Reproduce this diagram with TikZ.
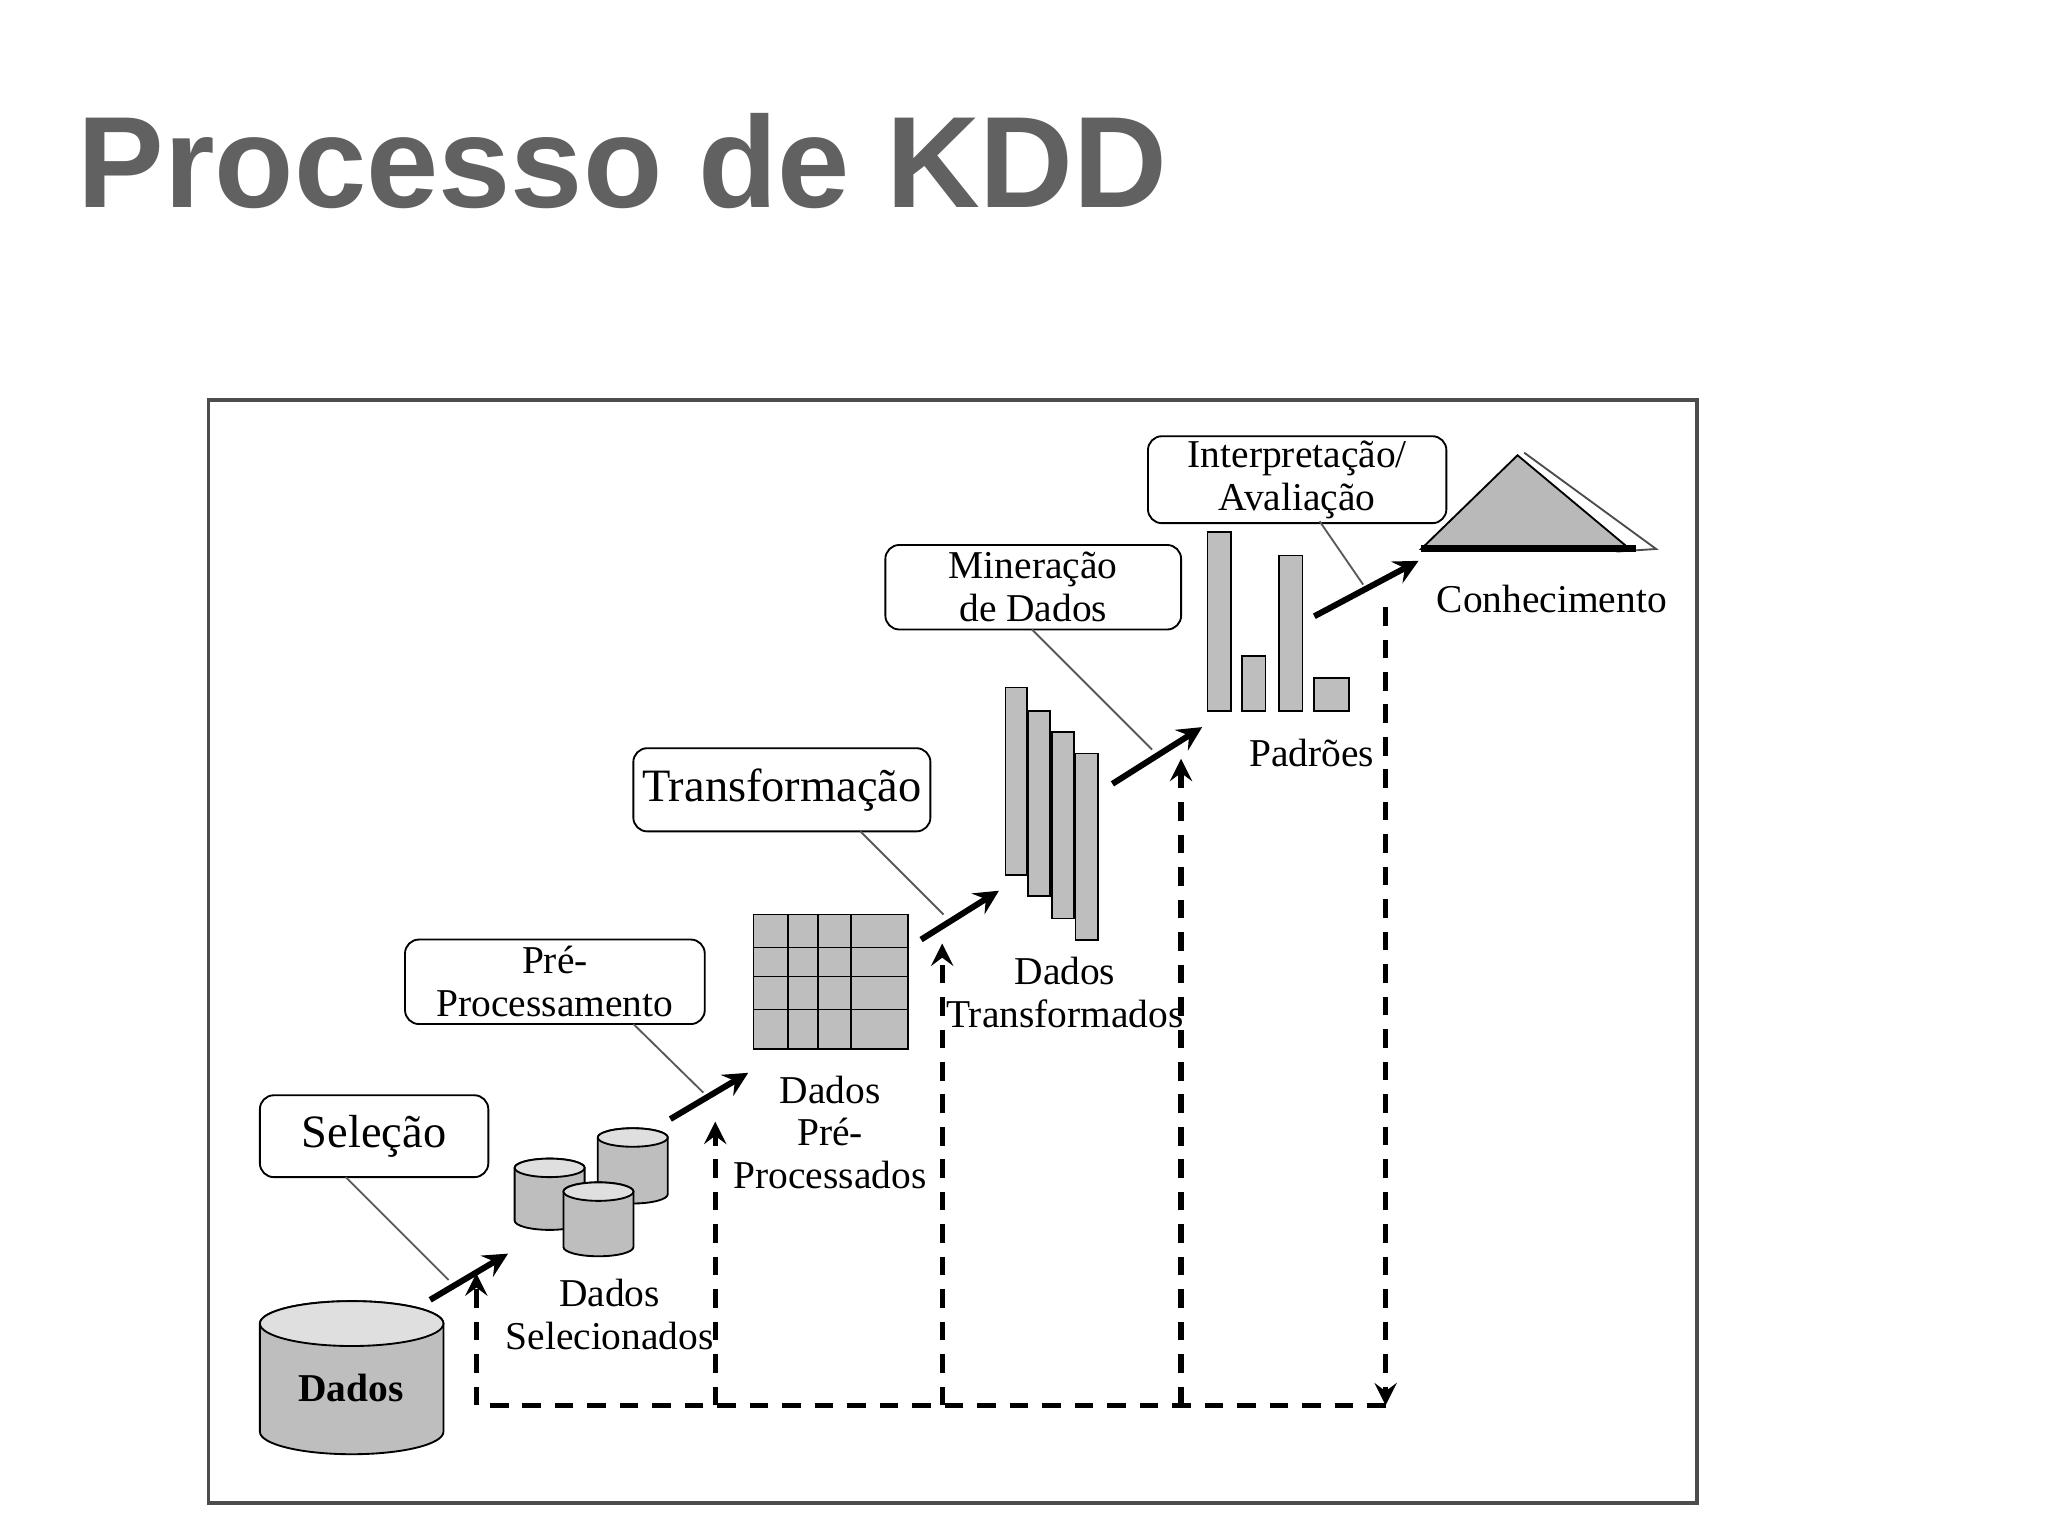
\documentclass[tikz,border=0pt]{standalone}
\usepackage{fontspec}
\setmainfont{Liberation Serif}
\newfontfamily\titlefont{Liberation Sans}
\definecolor{titlegray}{RGB}{97,97,97}
\definecolor{bargray}{RGB}{190,190,190}
\newcommand{\cyl}[5]{% center x, top y, bottom y, x radius, y radius
  \draw[fill=bargray] ([xshift=-#4]#1,#2) -- ([xshift=-#4]#1,#3)
    arc[start angle=180,end angle=360,x radius=#4,y radius=#5]
    -- ([xshift=#4]#1,#2) arc[start angle=0,end angle=180,x radius=#4,y radius=#5] -- cycle;
  \draw[fill=gray!25] (#1,#2) ellipse[x radius=#4,y radius=#5];}
\begin{document}
\begin{tikzpicture}[x=0.01cm, y=-0.01cm, >=stealth,
    box/.style={draw, rounded corners=3pt, fill=white, align=center, inner sep=1pt},
    lbl/.style={align=center, font=\fontsize{8.5}{9.2}\selectfont},
    stage/.style={->, line width=1.3pt},
    back/.style={->, line width=1.1pt, dash pattern=on 4pt off 3pt},
    lead/.style={gray!70!black, line width=0.4pt},
    bar/.style={draw, fill=bargray}]
  \useasboundingbox (0,0) rectangle (1552,1163);
  % Title
  \node[anchor=base west, inner sep=0, text=titlegray, font=\titlefont\bfseries\fontsize{28}{30}\selectfont] (title) at (58,157) {Processo de KDD};
  % Frame
  \draw[gray!60!black, line width=0.8pt] (158,303) rectangle (1286,1139);
  % Data stores
  \cyl{266.5}{1003}{1085}{0.695cm}{0.17cm}
  \node[font=\fontsize{8.5}{10}\selectfont\bfseries] (dados) at (266,1052) {Dados};
  \cyl{416.5}{885}{925}{0.265cm}{0.07cm}
  \cyl{479.5}{862}{905}{0.265cm}{0.07cm}
  \cyl{453.5}{903}{945}{0.265cm}{0.07cm}
  \node[lbl] (sel) at (462,996) {Dados\\Selecionados};
  % Grid
  \draw[fill=bargray] (571,693) rectangle (688,795);
  \foreach \x in {597,620,645} \draw (\x,693) -- (\x,795);
  \foreach \y in {718,740,765} \draw (571,\y) -- (688,\y);
  \node[lbl] (pre) at (629,858) {Dados\\Pré-\\Processados};
  % Transformed bars
  \foreach \a/\b/\c/\d in {762/521/778/663, 779/539/796/679, 797/555/814/696, 815/571/832/712}
    \draw[bar] (\a,\b) rectangle (\c,\d);
  \node[lbl] (trans) at (807,752) {Dados\\Transformados};
  % Pattern bars
  \foreach \a/\b/\c in {915/403/933, 941/497/959, 969/421/987, 996/514/1022}
    \draw[bar] (\a,\b) rectangle (\c,539);
  \node[lbl] (pad) at (994,571) {Padrões};
  % Knowledge
  \draw[gray!60!black] (1155,343) -- (1255,416) -- (1225,418);
  \draw[fill=gray!55] (1077,416) -- (1150,345) -- (1235,416) -- cycle;
  \draw[line width=1.5pt] (1077,416) -- (1240,416);
  \node[lbl] (con) at (1176,454) {Conhecimento};
  % Step boxes
  \node[box, minimum width=1.73cm, minimum height=0.62cm] (b1) at (283.5,861) {Seleção};
  \node[box, minimum width=2.27cm, minimum height=0.64cm, font=\fontsize{8.5}{9.2}\selectfont] (b2) at (420.5,744) {Pré-\\Processamento};
  \node[box, minimum width=2.25cm, minimum height=0.63cm] (b3) at (592.5,598.5) {Transformação};
  \node[box, minimum width=2.24cm, minimum height=0.64cm, font=\fontsize{8.5}{9.2}\selectfont] (b4) at (783,445) {Mineração\\de Dados};
  \node[box, minimum width=2.26cm, minimum height=0.63cm, font=\fontsize{8.5}{9.2}\selectfont] (b5) at (983,363.5) {Interpretação/\\Avaliação};
  % Leader lines
  \coordinate (l1) at (340,970); \coordinate (l2) at (533,828);
  \coordinate (l3) at (715,693); \coordinate (l4) at (873,568); \coordinate (l5) at (1033,443);
  \draw[lead] (262,892) -- (l1);
  \draw[lead] (480,776) -- (l2);
  \draw[lead] (652,630) -- (l3);
  \draw[lead] (782,477) -- (l4);
  \draw[lead] (1000,395) -- (l5);
  % Step arrows
  \coordinate (s1a) at (326,985); \coordinate (s1b) at (385,950);
  \coordinate (s2a) at (508,848); \coordinate (s2b) at (567,813);
  \coordinate (s3a) at (698,712); \coordinate (s3b) at (757,675);
  \coordinate (s4a) at (843,594); \coordinate (s4b) at (911,551);
  \coordinate (s5a) at (996,467); \coordinate (s5b) at (1075,425);
  \foreach \i in {1,...,5} \draw[stage] (s\i a) -- (s\i b);
  % Feedback
  \coordinate (top) at (1050,460); \coordinate (corner) at (1050,1065);
  \coordinate (f1) at (361,1065); \coordinate (f2) at (542,1065);
  \coordinate (f3) at (714,1065); \coordinate (f4) at (895,1065);
  \coordinate (t1) at (361,965); \coordinate (t2) at (542,850);
  \coordinate (t3) at (714,715); \coordinate (t4) at (895,575);
  \draw[back] (top) -- (corner);
  \draw[line width=1.1pt, dash pattern=on 4pt off 3pt] (corner) -- (f1);
  \foreach \i in {1,...,4} \draw[back] (f\i) -- (t\i);
\end{tikzpicture}
\end{document}
